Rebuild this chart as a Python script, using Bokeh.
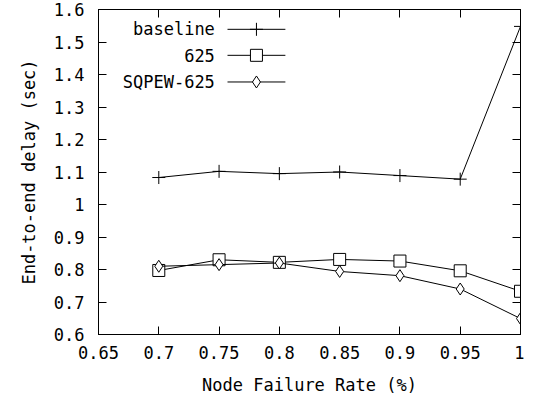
from bokeh.plotting import figure
from bokeh.models import LinearAxis, FixedTicker, Label, Range1d
from bokeh.embed import file_html
from bokeh.resources import INLINE

x_vals = [0.7, 0.75, 0.8, 0.85, 0.9, 0.95, 1.0]
baseline = [1.083, 1.102, 1.095, 1.100, 1.089, 1.078, 1.548]
s625 = [0.797, 0.830, 0.822, 0.831, 0.826, 0.796, 0.733]
sqpew625 = [0.810, 0.815, 0.820, 0.794, 0.781, 0.740, 0.649]

x_ticks = [0.65, 0.7, 0.75, 0.8, 0.85, 0.9, 0.95, 1.0]
x_tick_labels = ["0.65", "0.7", "0.75", "0.8", "0.85", "0.9", "0.95", "1"]
y_ticks = [0.6, 0.7, 0.8, 0.9, 1.0, 1.1, 1.2, 1.3, 1.4, 1.5, 1.6]
y_tick_labels = ["0.6", "0.7", "0.8", "0.9", "1", "1.1", "1.2", "1.3", "1.4", "1.5", "1.6"]

series_names = ["baseline", "625", "SQPEW-625"]
legend_y = [1.539, 1.459, 1.377]

FONT = "DejaVu Sans Mono"
FS = "17px"

p = figure(width=524, height=401, output_backend="svg", toolbar_location=None,
           x_range=Range1d(0.65, 1.0), y_range=Range1d(0.6, 1.6),
           min_border_left=98, min_border_top=9, min_border_right=4, min_border_bottom=67,
           x_axis_label="Node Failure Rate (%)", y_axis_label="End-to-end delay (sec)")
p.grid.visible = False
p.outline_line_color = "black"
p.outline_line_width = 1
p.background_fill_color = "white"

xo = {t: l for t, l in zip(x_ticks, x_tick_labels)}
yo = {t: l for t, l in zip(y_ticks, y_tick_labels)}

def style(ax):
    ax.major_tick_in = 8
    ax.major_tick_out = 0
    ax.minor_tick_in = 0
    ax.minor_tick_out = 0
    ax.axis_line_color = "black"
    ax.major_tick_line_color = "black"
    ax.major_label_text_font = FONT
    ax.major_label_text_font_size = FS
    ax.major_label_text_color = "black"
    ax.axis_label_text_font = FONT
    ax.axis_label_text_font_size = FS
    ax.axis_label_text_font_style = "normal"
    ax.axis_label_text_color = "black"

for ax in p.xaxis:
    ax.ticker = FixedTicker(ticks=x_ticks)
    ax.major_label_overrides = xo
    style(ax)
    ax.major_label_standoff = 11
    ax.axis_label_standoff = 13
for ax in p.yaxis:
    ax.ticker = FixedTicker(ticks=y_ticks)
    ax.major_label_overrides = yo
    style(ax)
    ax.major_label_standoff = 14
    ax.axis_label_standoff = 12

top = LinearAxis(ticker=FixedTicker(ticks=x_ticks))
style(top)
top.major_label_overrides = {t: "" for t in x_ticks}
top.major_label_standoff = 0
p.add_layout(top, "above")
right = LinearAxis(ticker=FixedTicker(ticks=y_ticks))
style(right)
right.major_label_overrides = {t: "" for t in y_ticks}
right.major_label_standoff = 0
p.add_layout(right, "right")

markers = ["cross", "square", "diamond"]
sizes = [13, 12, 12]
data = [baseline, s625, sqpew625]
for ys, m, s in zip(data, markers, sizes):
    p.line(x_vals, ys, line_color="black", line_width=1)
    p.scatter(x_vals, ys, marker=m, size=s, line_color="black", fill_color="white", line_width=1)

# legend (gnuplot style: label then sample)
for name, ly, m, s in zip(series_names, legend_y, markers, sizes):
    p.add_layout(Label(x=0.7465, y=ly, text=name, text_align="right", text_baseline="middle",
                       text_font=FONT, text_font_size=FS, text_color="black"))
    p.line([0.757, 0.805], [ly, ly], line_color="black", line_width=1)
    p.scatter([0.781], [ly], marker=m, size=s, line_color="black", fill_color="white", line_width=1)

open("out.html", "w").write(file_html(p, INLINE))
